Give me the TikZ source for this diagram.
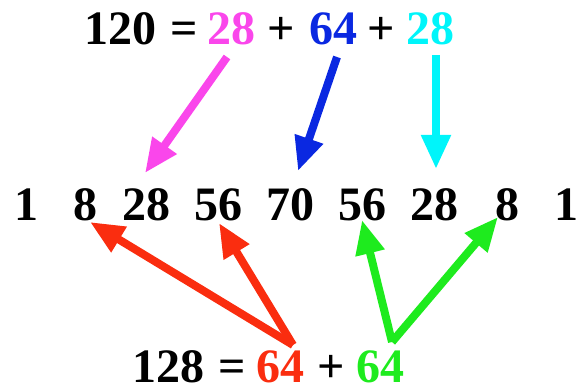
\documentclass[tikz,border=0pt]{standalone}
\usepackage{fontspec}
\setmainfont{Liberation Serif}
\usetikzlibrary{arrows.meta}
\definecolor{cmag}{RGB}{250,70,235}
\definecolor{cblue}{RGB}{10,40,225}
\definecolor{ccyan}{RGB}{0,245,250}
\definecolor{cred}{RGB}{250,45,15}
\definecolor{cgreen}{RGB}{30,235,30}
\tikzset{
  num/.style={inner sep=0pt, anchor=base, font=\fontsize{48}{52}\selectfont\bfseries},
  arr/.style={line width=8pt, -{Triangle[length=34pt,width=28pt]}}
}
\begin{document}
\begin{tikzpicture}[x=1pt,y=-1pt]
\useasboundingbox (0,0) rectangle (578,385);
% top row
\node[num] (t120) at (120,45) {120};
\node[num] (teq) at (184,45) {=};
\node[num, text=cmag] (t28a) at (231.5,45) {28};
\node[num] (tp1) at (281,45) {+};
\node[num, text=cblue] (t64) at (333.5,45) {64};
\node[num] (tp2) at (381,45) {+};
\node[num, text=ccyan] (t28b) at (430.5,45) {28};
% middle row
\node[num] (m1) at (26.5,220) {1};
\node[num] (m2) at (85.5,220) {8};
\node[num] (m3) at (146.5,220) {28};
\node[num] (m4) at (218,220) {56};
\node[num] (m5) at (290,220) {70};
\node[num] (m6) at (362,220) {56};
\node[num] (m7) at (434,220) {28};
\node[num] (m8) at (507,220) {8};
\node[num] (m9) at (566,220) {1};
% bottom row
\node[num] (b128) at (168.5,382) {128};
\node[num] (beq) at (232.5,382) {=};
\node[num, text=cred] (b64a) at (280,382) {64};
\node[num] (bp) at (331.5,382) {+};
\node[num, text=cgreen] (b64b) at (380,382) {64};
% arrow end points
\coordinate (ms) at (227,57);
\coordinate (me) at (145,173);
\coordinate (bs) at (337,57);
\coordinate (be) at (298,171);
\coordinate (cs) at (436,55);
\coordinate (ce) at (436,169);
\coordinate (rs) at (293,345);
\coordinate (re1) at (90,222);
\coordinate (re2) at (219,223);
\coordinate (gs) at (392,342);
\coordinate (ge1) at (362,220);
\coordinate (ge2) at (498,217);
% arrows
\draw[arr, cmag] (ms) -- (me);
\draw[arr, cblue] (bs) -- (be);
\draw[arr, ccyan] (cs) -- (ce);
\draw[arr, cred] (rs) -- (re1);
\draw[arr, cred] (rs) -- (re2);
\draw[arr, cgreen] (gs) -- (ge1);
\draw[arr, cgreen] (gs) -- (ge2);
\end{tikzpicture}
\end{document}
